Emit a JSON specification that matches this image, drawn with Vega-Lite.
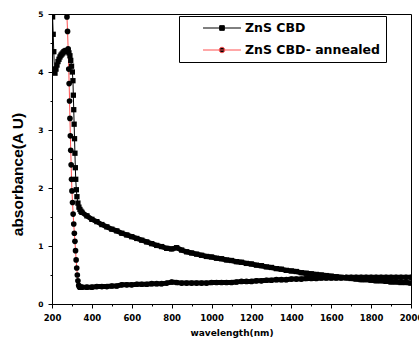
{
  "$schema": "https://vega.github.io/schema/vega-lite/v6.json",
  "width": 359,
  "height": 290,
  "autosize": "none",
  "padding": {"left": 52, "top": 14, "right": 8, "bottom": 43},
  "background": "white",
  "config": {"view": {"stroke": "black", "strokeWidth": 1}},
  "data": {"values": [
    {"s":"ZnS CBD","x":200,"y":5.3},{"s":"ZnS CBD","x":203,"y":4.95},{"s":"ZnS CBD","x":206,"y":4.65},{"s":"ZnS CBD","x":209,"y":4.35},{"s":"ZnS CBD","x":212,"y":4.05},{"s":"ZnS CBD","x":215,"y":3.98},{"s":"ZnS CBD","x":220,"y":4.05},{"s":"ZnS CBD","x":225,"y":4.12},{"s":"ZnS CBD","x":230,"y":4.18},{"s":"ZnS CBD","x":235,"y":4.22},{"s":"ZnS CBD","x":240,"y":4.26},{"s":"ZnS CBD","x":245,"y":4.29},{"s":"ZnS CBD","x":250,"y":4.31},{"s":"ZnS CBD","x":255,"y":4.33},{"s":"ZnS CBD","x":260,"y":4.35},{"s":"ZnS CBD","x":265,"y":4.36},{"s":"ZnS CBD","x":270,"y":4.37},{"s":"ZnS CBD","x":275,"y":4.37},{"s":"ZnS CBD","x":280,"y":4.36},{"s":"ZnS CBD","x":285,"y":4.33},{"s":"ZnS CBD","x":290,"y":4.28},{"s":"ZnS CBD","x":294,"y":4.2},{"s":"ZnS CBD","x":298,"y":4.1},{"s":"ZnS CBD","x":302,"y":4.0},{"s":"ZnS CBD","x":305,"y":3.85},{"s":"ZnS CBD","x":307,"y":3.6},{"s":"ZnS CBD","x":309,"y":3.35},{"s":"ZnS CBD","x":311,"y":3.1},{"s":"ZnS CBD","x":313,"y":2.85},{"s":"ZnS CBD","x":315,"y":2.6},{"s":"ZnS CBD","x":317,"y":2.35},{"s":"ZnS CBD","x":319,"y":2.15},{"s":"ZnS CBD","x":322,"y":1.97},{"s":"ZnS CBD","x":325,"y":1.85},{"s":"ZnS CBD","x":330,"y":1.74},{"s":"ZnS CBD","x":335,"y":1.67},{"s":"ZnS CBD","x":340,"y":1.63},{"s":"ZnS CBD","x":345,"y":1.6},
    {"s":"ZnS CBD","x":350,"y":1.58},{"s":"ZnS CBD","x":375,"y":1.52},{"s":"ZnS CBD","x":400,"y":1.46},{"s":"ZnS CBD","x":425,"y":1.42},{"s":"ZnS CBD","x":450,"y":1.37},{"s":"ZnS CBD","x":475,"y":1.33},{"s":"ZnS CBD","x":500,"y":1.29},{"s":"ZnS CBD","x":525,"y":1.26},{"s":"ZnS CBD","x":550,"y":1.22},{"s":"ZnS CBD","x":575,"y":1.19},{"s":"ZnS CBD","x":600,"y":1.16},{"s":"ZnS CBD","x":625,"y":1.13},{"s":"ZnS CBD","x":650,"y":1.1},{"s":"ZnS CBD","x":675,"y":1.07},{"s":"ZnS CBD","x":700,"y":1.04},{"s":"ZnS CBD","x":725,"y":1.01},{"s":"ZnS CBD","x":750,"y":0.99},{"s":"ZnS CBD","x":775,"y":0.96},{"s":"ZnS CBD","x":800,"y":0.95},{"s":"ZnS CBD","x":825,"y":0.97},{"s":"ZnS CBD","x":850,"y":0.93},{"s":"ZnS CBD","x":875,"y":0.9},{"s":"ZnS CBD","x":900,"y":0.88},{"s":"ZnS CBD","x":925,"y":0.86},{"s":"ZnS CBD","x":950,"y":0.84},{"s":"ZnS CBD","x":975,"y":0.82},{"s":"ZnS CBD","x":1000,"y":0.81},{"s":"ZnS CBD","x":1025,"y":0.79},{"s":"ZnS CBD","x":1050,"y":0.78},{"s":"ZnS CBD","x":1075,"y":0.76},{"s":"ZnS CBD","x":1100,"y":0.75},{"s":"ZnS CBD","x":1125,"y":0.73},{"s":"ZnS CBD","x":1150,"y":0.72},{"s":"ZnS CBD","x":1175,"y":0.7},{"s":"ZnS CBD","x":1200,"y":0.69},{"s":"ZnS CBD","x":1225,"y":0.67},{"s":"ZnS CBD","x":1250,"y":0.66},{"s":"ZnS CBD","x":1275,"y":0.64},{"s":"ZnS CBD","x":1300,"y":0.63},{"s":"ZnS CBD","x":1325,"y":0.61},{"s":"ZnS CBD","x":1350,"y":0.6},{"s":"ZnS CBD","x":1375,"y":0.58},{"s":"ZnS CBD","x":1400,"y":0.57},{"s":"ZnS CBD","x":1425,"y":0.56},{"s":"ZnS CBD","x":1450,"y":0.54},{"s":"ZnS CBD","x":1475,"y":0.53},{"s":"ZnS CBD","x":1500,"y":0.52},{"s":"ZnS CBD","x":1525,"y":0.51},{"s":"ZnS CBD","x":1550,"y":0.5},{"s":"ZnS CBD","x":1575,"y":0.49},{"s":"ZnS CBD","x":1600,"y":0.48},{"s":"ZnS CBD","x":1625,"y":0.47},{"s":"ZnS CBD","x":1650,"y":0.46},{"s":"ZnS CBD","x":1675,"y":0.45},{"s":"ZnS CBD","x":1700,"y":0.44},{"s":"ZnS CBD","x":1725,"y":0.43},{"s":"ZnS CBD","x":1750,"y":0.42},{"s":"ZnS CBD","x":1775,"y":0.42},{"s":"ZnS CBD","x":1800,"y":0.41},{"s":"ZnS CBD","x":1825,"y":0.4},{"s":"ZnS CBD","x":1850,"y":0.4},{"s":"ZnS CBD","x":1875,"y":0.39},{"s":"ZnS CBD","x":1900,"y":0.38},{"s":"ZnS CBD","x":1925,"y":0.38},{"s":"ZnS CBD","x":1950,"y":0.37},{"s":"ZnS CBD","x":1975,"y":0.37},{"s":"ZnS CBD","x":2000,"y":0.36},
    {"s":"ZnS CBD- annealed","x":268,"y":5.6},{"s":"ZnS CBD- annealed","x":272,"y":5.15},{"s":"ZnS CBD- annealed","x":275,"y":4.95},{"s":"ZnS CBD- annealed","x":278,"y":4.7},{"s":"ZnS CBD- annealed","x":281,"y":4.4},{"s":"ZnS CBD- annealed","x":284,"y":4.05},{"s":"ZnS CBD- annealed","x":286,"y":3.8},{"s":"ZnS CBD- annealed","x":288,"y":3.5},{"s":"ZnS CBD- annealed","x":290,"y":3.2},{"s":"ZnS CBD- annealed","x":292,"y":2.9},{"s":"ZnS CBD- annealed","x":294,"y":2.65},{"s":"ZnS CBD- annealed","x":296,"y":2.4},{"s":"ZnS CBD- annealed","x":298,"y":2.15},{"s":"ZnS CBD- annealed","x":300,"y":1.95},{"s":"ZnS CBD- annealed","x":303,"y":1.75},{"s":"ZnS CBD- annealed","x":306,"y":1.55},{"s":"ZnS CBD- annealed","x":309,"y":1.38},{"s":"ZnS CBD- annealed","x":312,"y":1.22},{"s":"ZnS CBD- annealed","x":315,"y":1.08},{"s":"ZnS CBD- annealed","x":318,"y":0.92},{"s":"ZnS CBD- annealed","x":321,"y":0.76},{"s":"ZnS CBD- annealed","x":324,"y":0.62},{"s":"ZnS CBD- annealed","x":327,"y":0.5},{"s":"ZnS CBD- annealed","x":330,"y":0.4},{"s":"ZnS CBD- annealed","x":334,"y":0.32},{"s":"ZnS CBD- annealed","x":338,"y":0.29},{"s":"ZnS CBD- annealed","x":344,"y":0.29},
    {"s":"ZnS CBD- annealed","x":350,"y":0.29},{"s":"ZnS CBD- annealed","x":375,"y":0.29},{"s":"ZnS CBD- annealed","x":400,"y":0.29},{"s":"ZnS CBD- annealed","x":425,"y":0.3},{"s":"ZnS CBD- annealed","x":450,"y":0.3},{"s":"ZnS CBD- annealed","x":475,"y":0.3},{"s":"ZnS CBD- annealed","x":500,"y":0.31},{"s":"ZnS CBD- annealed","x":525,"y":0.31},{"s":"ZnS CBD- annealed","x":550,"y":0.33},{"s":"ZnS CBD- annealed","x":575,"y":0.33},{"s":"ZnS CBD- annealed","x":600,"y":0.33},{"s":"ZnS CBD- annealed","x":625,"y":0.34},{"s":"ZnS CBD- annealed","x":650,"y":0.34},{"s":"ZnS CBD- annealed","x":675,"y":0.34},{"s":"ZnS CBD- annealed","x":700,"y":0.35},{"s":"ZnS CBD- annealed","x":725,"y":0.35},{"s":"ZnS CBD- annealed","x":750,"y":0.35},{"s":"ZnS CBD- annealed","x":775,"y":0.36},{"s":"ZnS CBD- annealed","x":800,"y":0.38},{"s":"ZnS CBD- annealed","x":825,"y":0.37},{"s":"ZnS CBD- annealed","x":850,"y":0.36},{"s":"ZnS CBD- annealed","x":875,"y":0.36},{"s":"ZnS CBD- annealed","x":900,"y":0.36},{"s":"ZnS CBD- annealed","x":925,"y":0.36},{"s":"ZnS CBD- annealed","x":950,"y":0.36},{"s":"ZnS CBD- annealed","x":975,"y":0.36},{"s":"ZnS CBD- annealed","x":1000,"y":0.37},{"s":"ZnS CBD- annealed","x":1025,"y":0.37},{"s":"ZnS CBD- annealed","x":1050,"y":0.37},{"s":"ZnS CBD- annealed","x":1075,"y":0.37},{"s":"ZnS CBD- annealed","x":1100,"y":0.37},{"s":"ZnS CBD- annealed","x":1125,"y":0.38},{"s":"ZnS CBD- annealed","x":1150,"y":0.39},{"s":"ZnS CBD- annealed","x":1175,"y":0.39},{"s":"ZnS CBD- annealed","x":1200,"y":0.39},{"s":"ZnS CBD- annealed","x":1225,"y":0.4},{"s":"ZnS CBD- annealed","x":1250,"y":0.4},{"s":"ZnS CBD- annealed","x":1275,"y":0.41},{"s":"ZnS CBD- annealed","x":1300,"y":0.41},{"s":"ZnS CBD- annealed","x":1325,"y":0.42},{"s":"ZnS CBD- annealed","x":1350,"y":0.42},{"s":"ZnS CBD- annealed","x":1375,"y":0.42},{"s":"ZnS CBD- annealed","x":1400,"y":0.43},{"s":"ZnS CBD- annealed","x":1425,"y":0.43},{"s":"ZnS CBD- annealed","x":1450,"y":0.43},{"s":"ZnS CBD- annealed","x":1475,"y":0.44},{"s":"ZnS CBD- annealed","x":1500,"y":0.44},{"s":"ZnS CBD- annealed","x":1525,"y":0.44},{"s":"ZnS CBD- annealed","x":1550,"y":0.45},{"s":"ZnS CBD- annealed","x":1575,"y":0.45},{"s":"ZnS CBD- annealed","x":1600,"y":0.45},{"s":"ZnS CBD- annealed","x":1625,"y":0.45},{"s":"ZnS CBD- annealed","x":1650,"y":0.45},{"s":"ZnS CBD- annealed","x":1675,"y":0.46},{"s":"ZnS CBD- annealed","x":1700,"y":0.46},{"s":"ZnS CBD- annealed","x":1725,"y":0.46},{"s":"ZnS CBD- annealed","x":1750,"y":0.46},{"s":"ZnS CBD- annealed","x":1775,"y":0.46},{"s":"ZnS CBD- annealed","x":1800,"y":0.46},{"s":"ZnS CBD- annealed","x":1825,"y":0.46},{"s":"ZnS CBD- annealed","x":1850,"y":0.46},{"s":"ZnS CBD- annealed","x":1875,"y":0.46},{"s":"ZnS CBD- annealed","x":1900,"y":0.46},{"s":"ZnS CBD- annealed","x":1925,"y":0.46},{"s":"ZnS CBD- annealed","x":1950,"y":0.46},{"s":"ZnS CBD- annealed","x":1975,"y":0.46},{"s":"ZnS CBD- annealed","x":2000,"y":0.46}
  ]},
  "encoding": {
    "x": {"field": "x", "type": "quantitative",
      "scale": {"domain": [200, 2000], "nice": false, "zero": false},
      "axis": {"title": "wavelength(nm)", "values": [200,300,400,500,600,700,800,900,1000,1100,1200,1300,1400,1500,1600,1700,1800,1900,2000],
        "labelExpr": "datum.value % 200 === 0 ? format(datum.value, 'd') : ''",
        "grid": false, "domainColor": "black", "tickColor": "black",
        "tickSize": {"condition": {"test": "datum.value % 200 === 0", "value": 4}, "value": 2},
        "labelFont": "DejaVu Sans", "labelFontWeight": "bold", "labelFontSize": 8.5, "labelColor": "black", "labelPadding": 5, "labelFlush": false,
        "titleFont": "DejaVu Sans", "titleFontWeight": "bold", "titleFontSize": 9, "titleColor": "black", "titlePadding": 7}},
    "y": {"field": "y", "type": "quantitative",
      "scale": {"domain": [0, 5], "nice": false},
      "axis": {"title": "absorbance(A U)", "values": [0,0.5,1,1.5,2,2.5,3,3.5,4,4.5,5],
        "labelExpr": "datum.value % 1 === 0 ? format(datum.value, 'd') : ''",
        "grid": false, "domainColor": "black", "tickColor": "black",
        "tickSize": {"condition": {"test": "datum.value % 1 === 0", "value": 4}, "value": 2},
        "labelFont": "DejaVu Sans", "labelFontWeight": "bold", "labelFontSize": 7.5, "labelColor": "black", "labelPadding": 5, "labelFlush": false,
        "titleFont": "Liberation Sans", "titleFontWeight": "bold", "titleFontSize": 15.5, "titleColor": "black",
        "titleX": -27, "titleY": 160, "titleAlign": "center", "titleBaseline": "bottom"}}
  },
  "layer": [
    {"mark": {"type": "line", "strokeWidth": 1, "clip": true},
     "encoding": {
       "color": {"field": "s", "type": "nominal",
         "scale": {"domain": ["ZnS CBD", "ZnS CBD- annealed"], "range": ["black", "#ff5050"]},
         "legend": {"title": null, "orient": "none", "legendX": 127, "legendY": 2,
           "strokeColor": "black", "padding": 5, "fillColor": "white",
           "symbolType": "M-2.92,0H2.92M-0.36,-0.36H0.36V0.36H-0.36Z", "symbolSize": 169, "symbolStrokeWidth": 1,
           "symbolFillColor": "black", "symbolOffset": 31,
           "labelFont": "DejaVu Sans", "labelFontWeight": "bold", "labelFontSize": 12.5, "labelColor": "black", "labelOffset": 16,
           "rowPadding": 8,
           "encode": {"symbols": {"update": {
             "shape": {"signal": "datum.value === 'ZnS CBD' ? 'M-2.92,0H2.92M-0.36,-0.36H0.36V0.36H-0.36Z' : 'M-2.92,0H2.92M-0.42,0A0.42,0.42 0 1,0 0.42,0A0.42,0.42 0 1,0 -0.42,0Z'"},
             "fill": {"value": "black"}}}}}}}},
    {"transform": [{"filter": "datum.x >= 345"}],
     "mark": {"type": "line", "strokeWidth": 5, "clip": true, "color": "black"},
     "encoding": {"detail": {"field": "s", "type": "nominal"}}},
    {"transform": [{"filter": "datum.s === 'ZnS CBD'"}],
     "mark": {"type": "square", "filled": true, "opacity": 1, "clip": true, "color": "black", "size": 28}},
    {"transform": [{"filter": "datum.s === 'ZnS CBD- annealed'"}],
     "mark": {"type": "circle", "opacity": 1, "clip": true, "color": "black", "size": 32}}
  ]
}
